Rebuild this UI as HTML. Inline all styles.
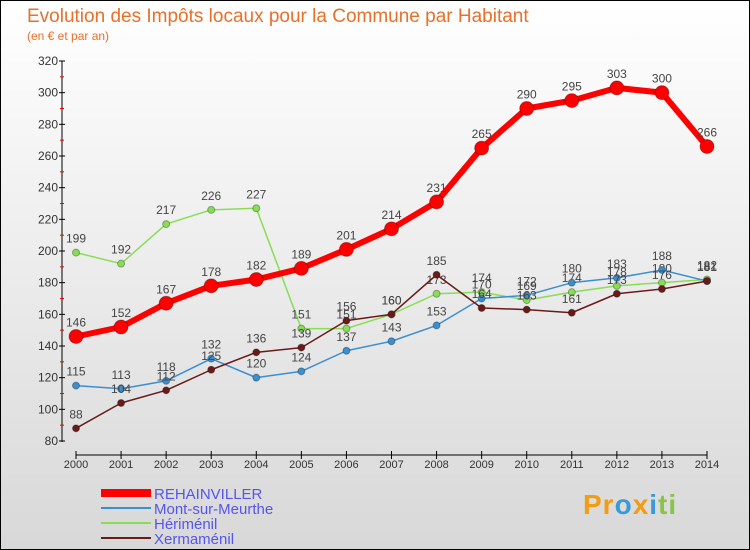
<!DOCTYPE html>
<html><head><meta charset="utf-8"><style>
body{margin:0}
#c{position:relative;width:748px;height:548px;border:1px solid #000;background:linear-gradient(#fff,#d8d8d8);font-family:"Liberation Sans",sans-serif;overflow:hidden}
</style></head><body>
<div id="c">
<div style="position:absolute;left:26px;top:5px;font-size:19px;color:#e8702a">Evolution des Impôts locaux pour la Commune par Habitant</div>
<div style="position:absolute;left:26px;top:28px;font-size:12px;color:#e8702a">(en € et par an)</div>
<svg id="s" width="748" height="548" style="position:absolute;left:0;top:0"></svg>
<div style="position:absolute;left:582px;top:488px;font-size:28px;font-weight:bold;letter-spacing:1px"><span style="color:#f39c12">Pr</span><span style="color:#3a9ad9">o</span><span style="color:#f39c12">x</span><span style="color:#3a9ad9">i</span><span style="color:#8bc34a">ti</span></div>
</div>
<script>
const years=[2000,2001,2002,2003,2004,2005,2006,2007,2008,2009,2010,2011,2012,2013,2014];
const yTicks=[80,100,120,140,160,180,200,220,240,260,280,300,320];
const rehainviller=[146,152,167,178,182,189,201,214,231,265,290,295,303,300,266];
const mont=[115,113,118,132,120,124,137,143,153,170,172,180,183,188,181];
const herimenil=[199,192,217,226,227,151,151,160,173,174,169,174,178,180,182];
const xermamenil=[88,104,112,125,136,139,156,160,185,164,163,161,173,176,181];
const names=["REHAINVILLER","Mont-sur-Meurthe","Hériménil","Xermaménil"];
const s=document.getElementById('s');const NS='http://www.w3.org/2000/svg';
function X(i){return 75+i*(706-75)/14}
function Y(v){return 440-(v-80)*380/240}
function el(t,a,p){const e=document.createElementNS(NS,t);for(const k in a)e.setAttribute(k,a[k]);(p||s).appendChild(e);return e}
let ax=el('line',{x1:61,y1:60,x2:61,y2:441,stroke:'#000'});

yTicks.forEach((v,i)=>{el('line',{x1:58,x2:64,y1:Y(v),y2:Y(v),stroke:'#000'});
 if(i<yTicks.length-1)el('line',{x1:59,x2:63,y1:Y(v+10),y2:Y(v+10),stroke:'#e00'});
 const t=el('text',{x:57,y:Y(v)+4,'text-anchor':'end','font-size':12,fill:'#333'});t.textContent=v;
 });
let xa=el('line',{x1:75,y1:454,x2:706,y2:454,stroke:'#000'});

years.forEach((y,i)=>{el('line',{x1:X(i),x2:X(i),y1:450,y2:458,stroke:'#000'});
 const t=el('text',{x:X(i),y:467,'text-anchor':'middle','font-size':11,fill:'#333'});t.textContent=y;
 });
function series(data,color,w,r,name){
 const g=el('g',{});
 el('polyline',{points:data.map((v,i)=>X(i)+','+Y(v)).join(' '),fill:'none',stroke:color,'stroke-width':w,'stroke-linejoin':'round'},g);
 data.forEach((v,i)=>{const c=el('circle',{cx:X(i),cy:Y(v),r:r,fill:color,stroke:'rgba(0,0,0,0.3)'},g);
  
  const t=el('text',{x:X(i),y:Y(v)-10,'text-anchor':'middle','font-size':12,fill:'#444'},g);t.textContent=v;});
}
series(herimenil,'#88dd55',1.5,3.5,'herimenil-series');
series(mont,'#3a8fd0',1.5,3.5,'mont-series');
series(xermamenil,'#6b1a1a',1.5,3.5,'xermamenil-series');
series(rehainviller,'#ff0000',6,7,'rehainviller-series');
const cols=['#ff0000','#3a8fd0','#88dd55','#6b1a1a'],ws=[8,2,2,2];
names.forEach((n,i)=>{const y=492+i*15;
 const g=el('g',{});
 el('line',{x1:100,x2:150,y1:y,y2:y,stroke:cols[i],'stroke-width':ws[i]},g);
 const t=el('text',{x:153,y:y+6,'font-size':15,fill:'#5555ee'},g);t.textContent=n;});
</script>
</body></html>
